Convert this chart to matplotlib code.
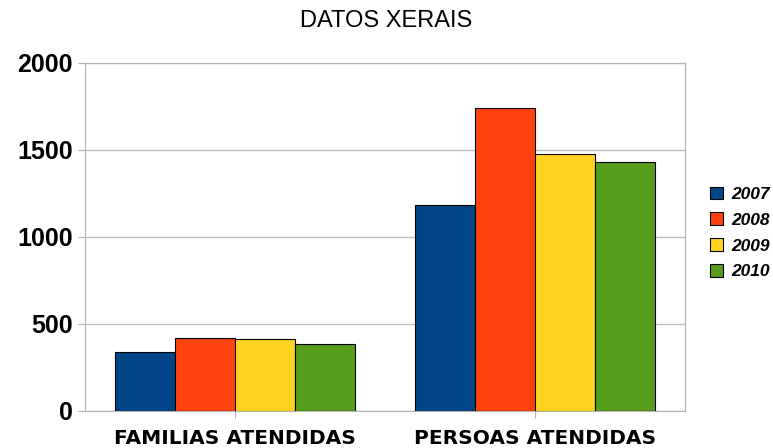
import matplotlib
matplotlib.use("Agg")
import matplotlib.pyplot as plt
import numpy as np

categories = ["FAMILIAS ATENDIDAS", "PERSOAS ATENDIDAS"]
years = ["2007", "2008", "2009", "2010"]
values_2007 = [340, 1181]
values_2008 = [422, 1742]
values_2009 = [414, 1477]
values_2010 = [384, 1429]
series = [values_2007, values_2008, values_2009, values_2010]
colors = ["#004586", "#ff420e", "#ffd320", "#579d1c"]
yticks = [0, 500, 1000, 1500, 2000]

plt.rcParams["font.family"] = ["Liberation Sans", "DejaVu Sans"]

fig = plt.figure(figsize=(7.73, 4.48), dpi=100)
ax = fig.add_axes([0.110, 0.0826, 0.776, 0.777])

x = np.arange(len(categories))
w = 0.2
for i, (vals, col, yr) in enumerate(zip(series, colors, years)):
    ax.bar(x + (i - 1.5) * w, vals, width=w, color=col, edgecolor="black",
           linewidth=0.8, label=yr, zorder=3)

ax.set_xlim(-0.5, 1.5)
ax.set_ylim(0, 2000)
ax.set_yticks(yticks)
ax.set_yticklabels([str(t) for t in yticks], fontsize=18, fontweight="bold")
ax.set_xticks(x)
ax.set_xticklabels(categories, fontsize=14.5, fontweight="bold",
                   family=["DejaVu Sans"])
ax.grid(axis="y", color="#c0c0c0", linewidth=1, zorder=0)
for s in ax.spines.values():
    s.set_color("#b3b3b3")
ax.tick_params(axis="both", colors="#b3b3b3", labelcolor="black", length=5)
ax.tick_params(axis="x", pad=8)
ax.tick_params(axis="y", pad=4)

fig.text(0.5, 0.954, "DATOS XERAIS", ha="center", va="center", fontsize=17)

leg = fig.legend(loc="center left", bbox_to_anchor=(0.918, 0.48), frameon=False,
                 prop={"weight": "bold", "style": "italic", "size": 12.5},
                 handlelength=0.75, handleheight=0.75, handletextpad=0.5,
                 labelspacing=0.6, borderpad=0, borderaxespad=0)
for p in leg.get_patches():
    p.set_linewidth(0.8)

fig.savefig("out.png", dpi=100)
